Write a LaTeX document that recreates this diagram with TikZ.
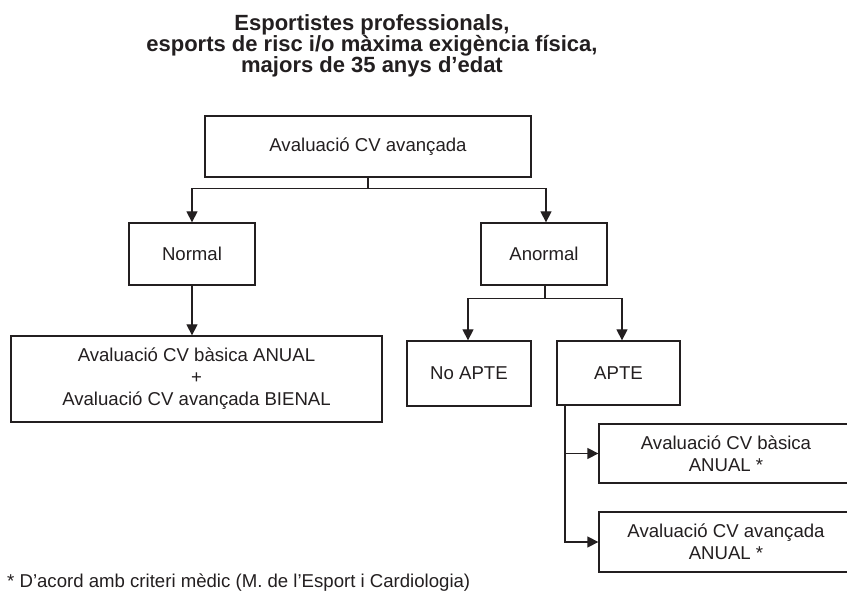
\documentclass[tikz,border=0pt]{standalone}
\usepackage{fontspec}
\setmainfont{Liberation Sans}
\usetikzlibrary{arrows.meta}
\definecolor{ink}{RGB}{35,31,32}
\begin{document}
\begin{tikzpicture}[x=1pt,y=-1pt,
  box/.style={draw=ink, line width=1.3pt, inner sep=0pt, align=center, text=ink,
    font=\fontsize{18.6}{22}\selectfont},
  conn/.style={draw=ink, line width=1.3pt},
  arr/.style={conn, -{Triangle[length=11pt,width=11pt]}},
  ]
\useasboundingbox[fill=white] (0,0) rectangle (847,596);
\clip (0,0) rectangle (847,596);
% title
\node[align=center, text=ink, font=\fontsize{22}{21.3}\selectfont\bfseries, inner sep=0pt]
  (title) at (372,46) {Esportistes professionals,\\esports de risc i/o màxima exigència física,\\majors de 35 anys d’edat};
% boxes
\node[box, minimum width=326pt, minimum height=61pt] (top) at (368,146.5) {Avaluació CV avançada};
\node[box, minimum width=126pt, minimum height=62pt] (normal) at (192,254) {Normal};
\node[box, minimum width=126pt, minimum height=62pt] (anormal) at (544,254) {Anormal};
\node[box, minimum width=371pt, minimum height=86pt] (anual) at (196.5,379) {Avaluació CV bàsica ANUAL\\+\\Avaluació CV avançada BIENAL};
\node[box, minimum width=124pt, minimum height=65pt] (noapte) at (469,373.5) {No APTE};
\node[box, minimum width=123pt, minimum height=64pt] (apte) at (618.5,373) {APTE};
\node[box, minimum width=254pt, minimum height=59pt] (r1) at (726,453.5) {Avaluació CV bàsica\\ANUAL *};
\node[box, minimum width=254pt, minimum height=60pt] (r2) at (726,542) {Avaluació CV avançada\\ANUAL *};
% footnote
\node[anchor=west, inner sep=0pt, text=ink, font=\fontsize{18.6}{22}\selectfont] (fn) at (7,583)
  {* D’acord amb criteri mèdic (M. de l’Esport i Cardiologia)};
% connectors
\draw[conn] (top.south) -- ++(0,11) coordinate (j1);
\draw[arr] (j1) -| (normal.north);
\draw[arr] (j1) -| ([xshift=2pt]anormal.north);
\draw[arr] (normal.south) -- (normal.south |- anual.north);
\draw[conn] ([xshift=1pt]anormal.south) -- ++(0,13) coordinate (j2);
\draw[arr] (j2) -| ([xshift=-1pt]noapte.north);
\draw[arr] (j2) -| ([xshift=3.5pt]apte.north);
\coordinate (s) at ([xshift=-53.5pt]apte.south);
\draw[arr] (s) |- (r1.west);
\draw[arr] (s) |- (r2.west);
\end{tikzpicture}
\end{document}
